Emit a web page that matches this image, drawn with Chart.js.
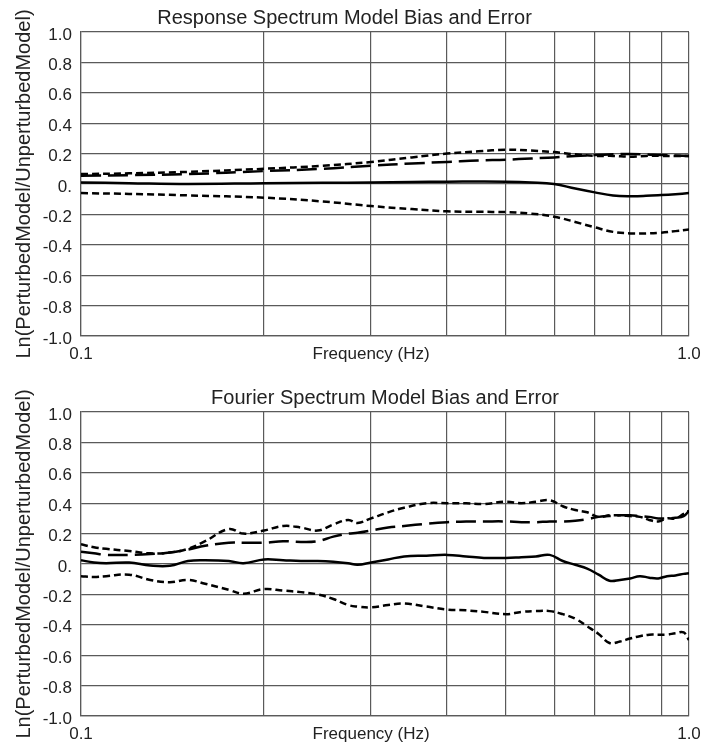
<!DOCTYPE html>
<html>
<head>
<meta charset="utf-8">
<script src="https://cdn.jsdelivr.net/npm/chart.js@4.4.1/dist/chart.umd.min.js"></script>
<style>
  body { margin: 0; background: #fff; }
  canvas { display: block; }
</style>
</head>
<body>
<canvas id="chart_rs" width="702" height="380"></canvas>
<canvas id="chart_fs" width="702" height="366"></canvas>
<script>
// === Response spectrum (top) ===
const freqRS = [0.10, 0.12, 0.15, 0.20, 0.25, 0.30, 0.35, 0.40, 0.45, 0.50,
                0.55, 0.60, 0.65, 0.70, 0.75, 0.80, 0.85, 0.90, 0.95, 1.00];
const rsBias  = [0.010, 0.005, 0.000, 0.005, 0.008, 0.010, 0.013, 0.015, 0.016, 0.015,
                 0.010, 0.000, -0.030, -0.055, -0.075, -0.080, -0.078, -0.073, -0.067, -0.060];
const rsUpper = [0.065, 0.070, 0.080, 0.100, 0.120, 0.145, 0.175, 0.200, 0.215, 0.225,
                 0.220, 0.210, 0.195, 0.185, 0.185, 0.180, 0.185, 0.185, 0.185, 0.185];
const rsLower = [-0.060, -0.065, -0.075, -0.090, -0.115, -0.145, -0.165, -0.180, -0.183, -0.185,
                 -0.195, -0.215, -0.250, -0.285, -0.315, -0.325, -0.325, -0.320, -0.310, -0.300];
const rsError = [0.055, 0.058, 0.065, 0.085, 0.100, 0.120, 0.135, 0.145, 0.155, 0.160,
                 0.168, 0.175, 0.185, 0.190, 0.195, 0.198, 0.195, 0.190, 0.188, 0.185];

// === Fourier spectrum (bottom) ===
const freqFS = [0.100, 0.105, 0.110, 0.120, 0.130, 0.140, 0.150, 0.160, 0.175, 0.185,
                0.200, 0.215, 0.230, 0.245, 0.260, 0.275, 0.285, 0.300, 0.320, 0.340,
                0.370, 0.400, 0.430, 0.460, 0.500, 0.530, 0.560, 0.590, 0.620, 0.650,
                0.680, 0.710, 0.740, 0.770, 0.800, 0.830, 0.860, 0.890, 0.920, 0.950,
                0.980, 1.000];
const fsBias  = [0.025, 0.010, 0.005, 0.010, -0.010, -0.012, 0.020, 0.025, 0.020, 0.005,
                 0.030, 0.025, 0.020, 0.020, 0.015, 0.005, -0.005, 0.010, 0.030, 0.050,
                 0.055, 0.060, 0.050, 0.040, 0.040, 0.045, 0.050, 0.060, 0.020, -0.005,
                 -0.030, -0.070, -0.110, -0.105, -0.095, -0.080, -0.090, -0.095, -0.080, -0.075,
                 -0.065, -0.060];
const fsUpper = [0.130, 0.110, 0.100, 0.085, 0.070, 0.075, 0.100, 0.150, 0.230, 0.200,
                 0.220, 0.250, 0.240, 0.220, 0.260, 0.290, 0.270, 0.300, 0.340, 0.370,
                 0.400, 0.400, 0.400, 0.395, 0.410, 0.400, 0.410, 0.420, 0.380, 0.355,
                 0.340, 0.310, 0.320, 0.320, 0.315, 0.310, 0.290, 0.280, 0.300, 0.300,
                 0.330, 0.350];
const fsLower = [-0.080, -0.085, -0.080, -0.070, -0.105, -0.120, -0.105, -0.130, -0.170, -0.195,
                 -0.165, -0.175, -0.185, -0.200, -0.230, -0.270, -0.280, -0.285, -0.270, -0.260,
                 -0.280, -0.300, -0.305, -0.315, -0.330, -0.315, -0.310, -0.310, -0.330, -0.360,
                 -0.410, -0.460, -0.520, -0.510, -0.490, -0.475, -0.465, -0.465, -0.465, -0.455,
                 -0.450, -0.500];
const fsError = [0.080, 0.070, 0.060, 0.060, 0.065, 0.075, 0.095, 0.120, 0.140, 0.140,
                 0.140, 0.150, 0.145, 0.150, 0.180, 0.200, 0.205, 0.220, 0.240, 0.250,
                 0.265, 0.275, 0.280, 0.280, 0.280, 0.275, 0.275, 0.280, 0.280, 0.285,
                 0.295, 0.310, 0.315, 0.320, 0.320, 0.315, 0.310, 0.300, 0.300, 0.305,
                 0.315, 0.350];

// log grid lines, and the few labels shown (axis name sits on the 0.3 line)
const xTicks = [0.1, 0.2, 0.3, 0.4, 0.5, 0.6, 0.7, 0.8, 0.9, 1.0];
const xLabels = [[0.1, "0.1"], [0.3, "Frequency (Hz)"], [1.0, "1.0"]];
const yTitle = "Ln(PerturbedModel/UnperturbedModel)";

const FONT = "'Liberation Sans', Arial, Helvetica, sans-serif";
const TEXT = "#222";
const GRID = "#5a5a5a";

function pts(freqs, vals) {
  return freqs.map((f, i) => ({ x: f, y: vals[i] }));
}

function line(data, dash) {
  return {
    data: data,
    borderColor: "#000",
    borderWidth: 2.5,
    borderDash: dash,
    pointRadius: 0,
    tension: 0.4,
    fill: false
  };
}

function makeChart(id, title, titleFullSize, padBottom, freqs, bias, upper, lower, error) {
  return new Chart(document.getElementById(id), {
    type: "line",
    data: {
      datasets: [
        line(pts(freqs, error), [20, 7]),
        line(pts(freqs, upper), [7, 4]),
        line(pts(freqs, lower), [7, 4]),
        line(pts(freqs, bias), [])
      ]
    },
    options: {
      responsive: false,
      animation: false,
      layout: { padding: { left: 0, right: 13, top: 0, bottom: padBottom } },
      plugins: {
        legend: { display: false },
        tooltip: { enabled: false },
        title: {
          display: true,
          text: title,
          fullSize: titleFullSize,
          color: TEXT,
          font: { family: FONT, size: 20, weight: "normal" },
          padding: { top: 6.5, bottom: 1.5 }
        }
      },
      scales: {
        x: {
          type: "logarithmic",
          min: 0.1,
          max: 1.0,
          afterBuildTicks: (s) => { s.ticks = xTicks.map(v => ({ value: v })); },
          grid: { color: GRID, lineWidth: 1.2, drawTicks: false },
          border: { color: GRID, width: 1.2 },
          ticks: {
            autoSkip: false,
            maxRotation: 0,
            minRotation: 0,
            padding: 8,
            color: TEXT,
            font: { family: FONT, size: 17 },
            callback: (v) => {
              const hit = xLabels.find(l => Math.abs(l[0] - v) < 1e-6);
              return hit ? hit[1] : "";
            }
          },
          afterFit: (s) => { s.height = 28; s.paddingLeft = 0; s.paddingRight = 0; }
        },
        y: {
          min: -1,
          max: 1,
          grid: { color: GRID, lineWidth: 1.2, drawTicks: false },
          border: { color: GRID, width: 1.2 },
          ticks: {
            stepSize: 0.2,
            padding: 9,
            labelOffset: 3,
            color: TEXT,
            font: { family: FONT, size: 17 },
            callback: (v) => Math.abs(v) < 1e-9 ? "0." : v.toFixed(1)
          },
          title: {
            display: true,
            text: yTitle,
            color: TEXT,
            font: { family: FONT, size: 20 },
            padding: { top: 12, bottom: 0 }
          },
          afterFit: (s) => { s.width = 81; }
        }
      }
    }
  });
}

makeChart("chart_rs", "Response Spectrum Model Bias and Error", true, 16,
  freqRS, rsBias, rsUpper, rsLower, rsError);
makeChart("chart_fs", "Fourier Spectrum Model Bias and Error", false, 2,
  freqFS, fsBias, fsUpper, fsLower, fsError);
</script>
</body>
</html>
